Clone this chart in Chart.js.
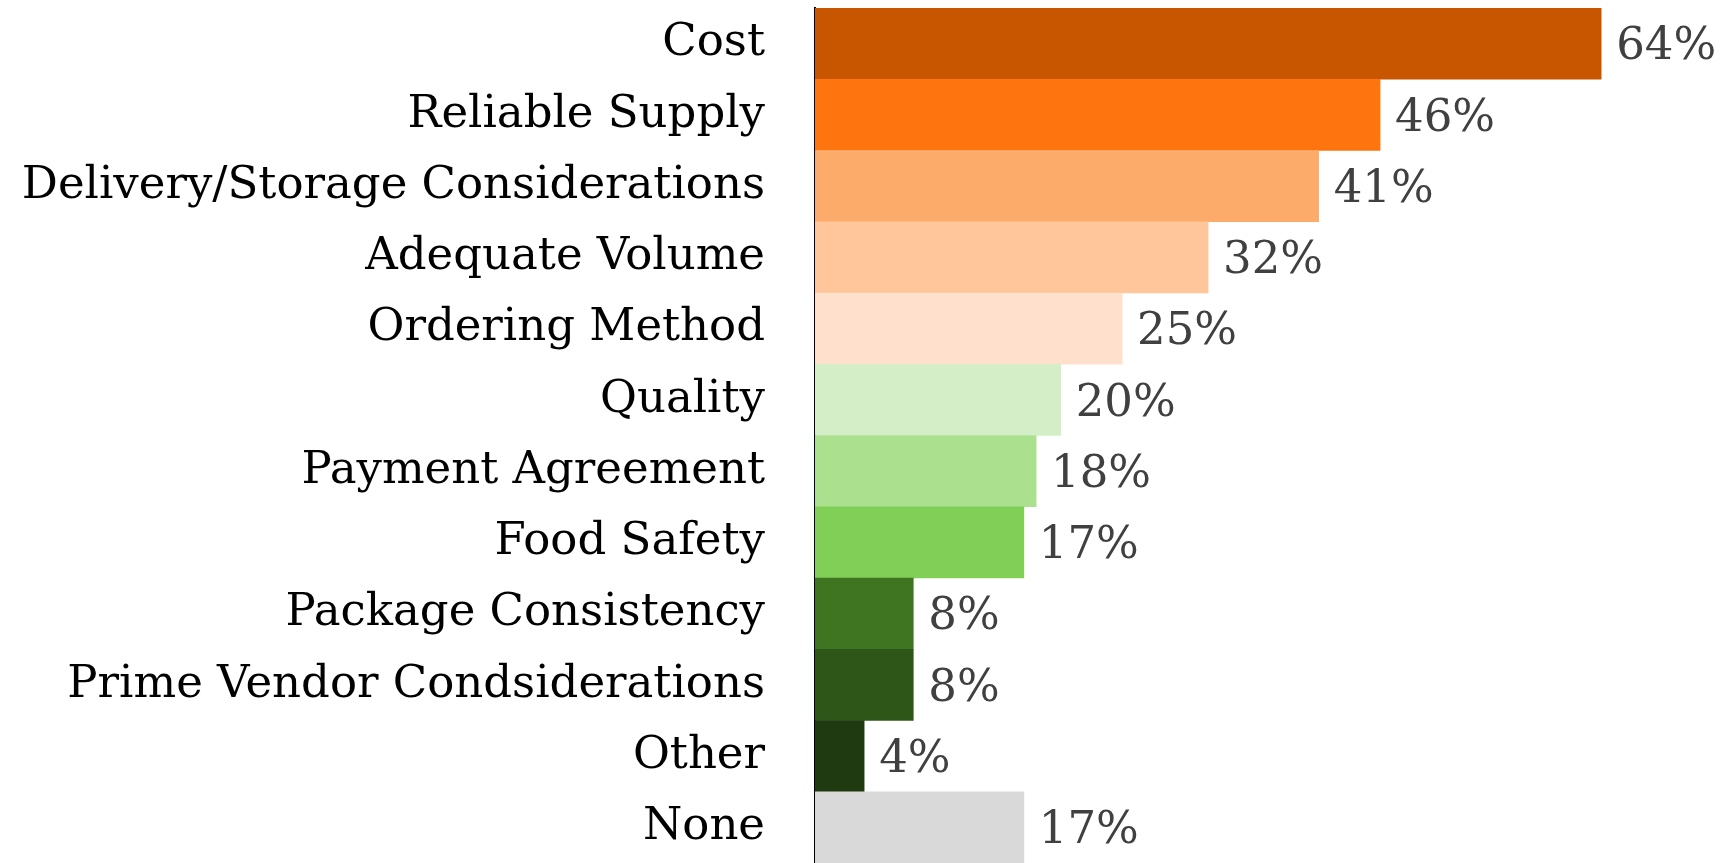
<!DOCTYPE html>
<html>
<head>
<meta charset="utf-8">
<script src="https://cdn.jsdelivr.net/npm/chart.js@4/dist/chart.umd.min.js"></script>
<style>
  html, body { margin: 0; padding: 0; background: #fff; }
  #wrap { width: 1724px; height: 863px; }
</style>
</head>
<body>
<div id="wrap"><canvas id="chart" width="1724" height="863"></canvas></div>
<script>
// Purchasing considerations chart

const categories = [
  'Cost', 'Reliable Supply', 'Delivery/Storage Considerations', 'Adequate Volume',
  'Ordering Method', 'Quality', 'Payment Agreement', 'Food Safety',
  'Package Consistency', 'Prime Vendor Condsiderations', 'Other', 'None'
];
const percents = [64, 46, 41, 32, 25, 20, 18, 17, 8, 8, 4, 17];
const barColors = [
  '#C85600', '#FE7510', '#FDAB6B', '#FFC59B', '#FFE0CC', '#D4EFC7',
  '#ABE08E', '#82CF57', '#3F7421', '#2F5619', '#1F3A10', '#D9D9D9'
];

const serif = '"DejaVu Serif", "Liberation Serif", serif';

// draws the % value next to each bar
const valueLabels = {
  id: 'valueLabels',
  afterDatasetsDraw(chart) {
    const ctx = chart.ctx;
    const meta = chart.getDatasetMeta(0);
    ctx.save();
    ctx.font = '45px ' + serif;
    ctx.fillStyle = '#404040';
    ctx.textAlign = 'left';
    ctx.textBaseline = 'middle';
    meta.data.forEach((bar, i) => {
      ctx.fillText(percents[i] + '%', bar.x + 15, bar.y + 4);
    });
    ctx.restore();
  }
};

new Chart(document.getElementById('chart'), {
  type: 'bar',
  data: {
    labels: categories,
    datasets: [{
      data: percents,
      backgroundColor: barColors,
      borderWidth: 0,
      barPercentage: 1.0,
      categoryPercentage: 1.0
    }]
  },
  options: {
    indexAxis: 'y',
    responsive: false,
    animation: false,
    layout: { padding: { top: 8, right: 0, bottom: 0, left: 0 } },
    plugins: {
      legend: { display: false },
      tooltip: { enabled: false }
    },
    scales: {
      x: {
        display: false,
        min: 0,
        max: 74
      },
      y: {
        grid: { display: false, drawTicks: false },
        border: { display: true, color: '#000', width: 2 },
        ticks: {
          color: '#000',
          padding: 50,
          font: { family: serif, size: 45 }
        },
        afterFit(scale) {
          scale.width = 815;
          scale.paddingTop = 0;
          scale.paddingBottom = 0;
        }
      }
    }
  },
  plugins: [valueLabels]
});
</script>
</body>
</html>
